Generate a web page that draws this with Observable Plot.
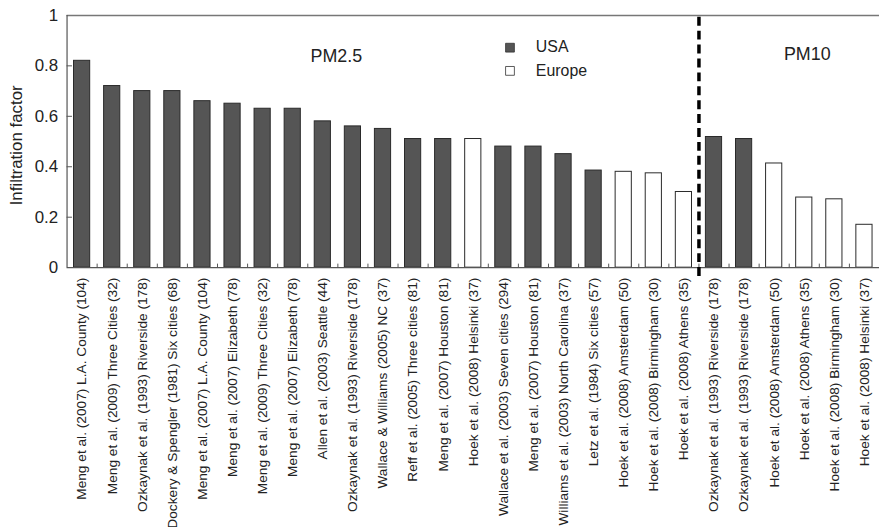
<!DOCTYPE html>
<html>
<head>
<meta charset="utf-8">
<script src="https://cdn.jsdelivr.net/npm/d3@7"></script>
<script src="https://cdn.jsdelivr.net/npm/@observablehq/plot@0.6"></script>
<style>
  html, body { margin: 0; padding: 0; background: #fff; overflow: hidden; }
  #chart svg { display: block; }
</style>
</head>
<body>
<div id="chart"></div>
<script>
const labels = [
  "Meng et al. (2007) L.A. County (104)",
  "Meng et al. (2009) Three Cities (32)",
  "Ozkaynak et al. (1993) Riverside (178)",
  "Dockery & Spengler (1981) Six cities (68)",
  "Meng et al. (2007) L.A. County (104)",
  "Meng et al. (2007) Elizabeth (78)",
  "Meng et al. (2009) Three Cities (32)",
  "Meng et al. (2007) Elizabeth (78)",
  "Allen et al. (2003) Seattle (44)",
  "Ozkaynak et al. (1993) Riverside (178)",
  "Wallace & Williams (2005) NC (37)",
  "Reff et al. (2005) Three cities (81)",
  "Meng et al. (2007) Houston (81)",
  "Hoek et al. (2008) Helsinki (37)",
  "Wallace et al. (2003) Seven cities (294)",
  "Meng et al. (2007) Houston (81)",
  "Williams et al. (2003) North Carolina (37)",
  "Letz et al. (1984) Six cities (57)",
  "Hoek et al. (2008) Amsterdam (50)",
  "Hoek et al. (2008) Birmingham (30)",
  "Hoek et al. (2008) Athens (35)",
  "Ozkaynak et al. (1993) Riverside (178)",
  "Ozkaynak et al. (1993) Riverside (178)",
  "Hoek et al. (2008) Amsterdam (50)",
  "Hoek et al. (2008) Athens (35)",
  "Hoek et al. (2008) Birmingham (30)",
  "Hoek et al. (2008) Helsinki (37)"
];
const values = [
  0.82, 0.72, 0.70, 0.70, 0.66, 0.65, 0.63, 0.63, 0.58, 0.56, 0.55, 0.51, 0.51,
  0.51, 0.48, 0.48, 0.45, 0.385, 0.38, 0.374, 0.30,
  0.518, 0.51, 0.413, 0.278, 0.271, 0.17
];
const regions = [
  "USA","USA","USA","USA","USA","USA","USA","USA","USA","USA","USA","USA","USA",
  "Europe","USA","USA","USA","USA","Europe","Europe","Europe",
  "USA","USA","Europe","Europe","Europe","Europe"
];
const legendKeys = ["USA", "Europe"];
const groupNames = ["PM2.5", "PM10"];
const yTicks = [0, 0.2, 0.4, 0.6, 0.8, 1];
const yLabel = "Infiltration factor";

const data = labels.map((label, i) => ({i, label, value: values[i], region: regions[i]}));
const n = labels.length;
const splitIndex = 21;

const chart = Plot.plot({
  width: 885,
  height: 531,
  marginLeft: 67,
  marginRight: 0,
  marginTop: 15,
  marginBottom: 262,
  style: {fontFamily: "'Liberation Sans', Arial, sans-serif", fontSize: "13px", color: "#222", background: "#fff"},
  x: {type: "linear", domain: [0, n]},
  y: {domain: [0, 1]},
  color: {domain: legendKeys, range: ["#555555", "#ffffff"]},
  marks: [
    Plot.rectY(data, {
      x1: d => d.i, x2: d => d.i + 1, y1: 0, y2: "value",
      insetLeft: 7, insetRight: 7,
      fill: "region", stroke: "#2a2a2a", strokeWidth: 1
    }),
    Plot.ruleY([1], {stroke: "#777", strokeWidth: 1.5}),
    Plot.ruleY([0], {stroke: "#555", strokeWidth: 1.2}),
    Plot.ruleX([0], {stroke: "#555", strokeWidth: 1.2}),
    Plot.ruleY(yTicks.slice(1, -1), {x1: 0, x2: 0.18, stroke: "#555"}),
    Plot.ruleX(d3.range(1, n), {y1: 0, y2: 0.014, stroke: "#555"}),
    Plot.ruleX([splitIndex], {y1: -0.035, y2: 1.012, stroke: "#000", strokeWidth: 3.5, strokeDasharray: "9,5"}),
    Plot.axisY({ticks: yTicks, tickFormat: d => String(d), tickSize: 0, tickPadding: 9, fontSize: 17, label: null}),
    Plot.axisX({
      ticks: d3.range(n).map(i => i + 0.5),
      tickFormat: d => labels[Math.floor(d)],
      tickRotate: -90, tickSize: 0, tickPadding: 10, fontSize: 13.8, label: null
    }),
    Plot.text([yLabel], {x: () => -1.68, y: () => 0.485, text: d => d, rotate: -90, fontSize: 17}),
    Plot.text(groupNames, {x: (d, i) => [8.95, 24.6][i], y: (d, i) => [0.838, 0.845][i], text: d => d, fontSize: 18}),
    Plot.dot(legendKeys, {x: () => 14.72, y: (d, i) => [0.872, 0.78][i], symbol: "square", r: 5, fill: d => d, stroke: "#333", strokeWidth: 0.8}),
    Plot.text(legendKeys, {x: () => 15.58, y: (d, i) => [0.875, 0.78][i], text: d => d, textAnchor: "start", fontSize: 16})
  ]
});
document.getElementById("chart").append(chart);
</script>
</body>
</html>
